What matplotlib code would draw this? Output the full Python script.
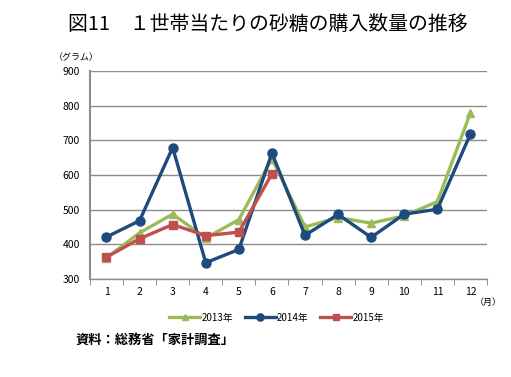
import numpy as np
import matplotlib.pyplot as plt

plt.rcParams['font.family'] = ['Noto Sans CJK JP', 'DejaVu Sans']

# data
months = [1, 2, 3, 4, 5, 6, 7, 8, 9, 10, 11, 12]
y2013 = [361, 433, 487, 418, 471, 647, 450, 477, 461, 482, 523, 779]
y2014 = [421, 468, 679, 347, 385, 663, 426, 486, 420, 487, 501, 718]
y2015 = [363, 416, 457, 425, 435, 603]
labels = ['2013年', '2014年', '2015年']

fig = plt.figure(figsize=(5.11, 3.77), dpi=100)
ax = fig.add_axes([0.176, 0.260, 0.777, 0.552])

ax.plot(months, y2013, color='#9BBB59', lw=2.4, marker='^', ms=6, label=labels[0])
ax.plot(months, y2014, color='#1F4A7E', lw=2.4, marker='o', ms=6.5, label=labels[1])
ax.plot(months[:len(y2015)], y2015, color='#C0504D', lw=2.4, marker='s', ms=5.5, label=labels[2])

ax.set_xlim(0.5, 12.5)
ax.set_ylim(300, 900)
ax.set_yticks(np.arange(300, 901, 100))
ax.set_xticks(months)
ax.set_xticks(np.arange(0.5, 12.6, 1), minor=True)
ax.tick_params(axis='x', which='major', length=0, labelsize=7.5, pad=6)
ax.tick_params(axis='x', which='minor', length=4, color='#808080', direction='out')
ax.tick_params(axis='y', length=0, labelsize=7.5, pad=7)
ax.grid(axis='y', color='#8C8C8C', lw=1)
ax.set_axisbelow(True)
for s in ['top', 'right']:
    ax.spines[s].set_visible(False)
ax.spines['left'].set_color('#8C8C8C')
ax.spines['left'].set_linewidth(1.5)
ax.spines['bottom'].set_color('#8C8C8C')
ax.spines['bottom'].set_linewidth(1)

fig.text(0.525, 0.935, '図11　１世帯当たりの砂糖の購入数量の推移', ha='center', va='center',
         fontsize=14.3, fontweight='normal')
fig.text(0.105, 0.848, '（グラム）', fontsize=6.5, va='center')
fig.text(0.93, 0.197, '（月）', fontsize=6.5, va='center')

ax.legend(loc='upper center', bbox_to_anchor=(0.47, -0.12), ncol=3, frameon=False,
          fontsize=7, handlelength=3.2, handletextpad=0.1, columnspacing=1.2, markerscale=0.8)

fig.text(0.147, 0.1, '資料：総務省「家計調査」', fontsize=9.5, fontweight='bold', va='center')

fig.savefig('out.png', dpi=100)
